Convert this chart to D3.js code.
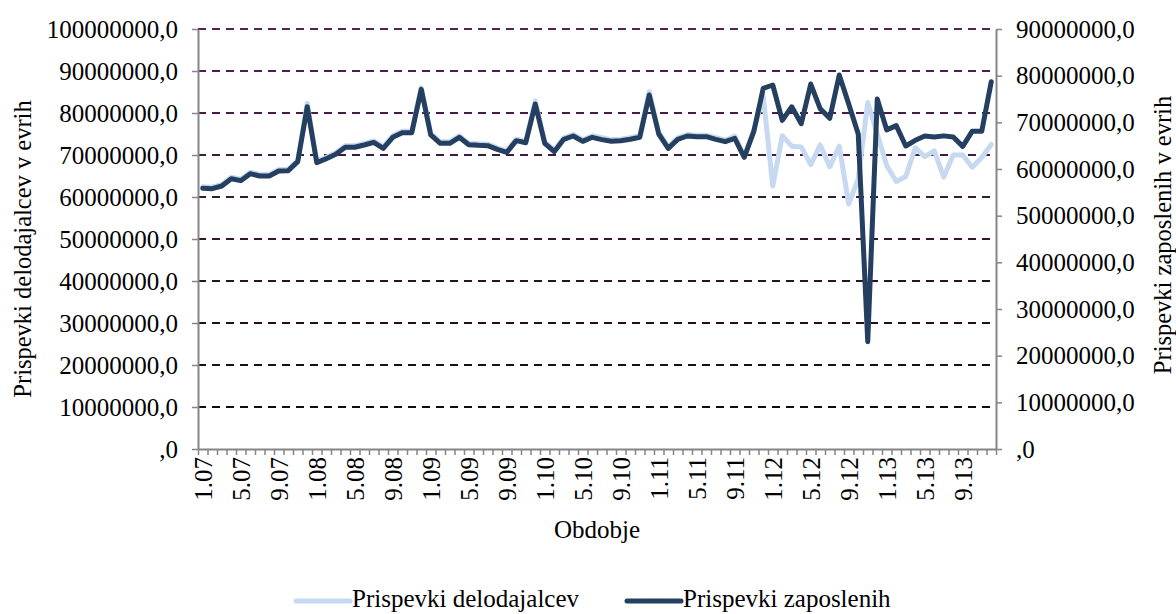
<!DOCTYPE html>
<html>
<head>
<meta charset="utf-8">
<script src="https://cdn.jsdelivr.net/npm/d3@7"></script>
<style>
  html, body { margin: 0; padding: 0; background: #fff; }
  svg { display: block; }
  text { font-family: "Liberation Serif", "Times New Roman", serif; fill: #000; }
</style>
</head>
<body>
<svg id="chart" width="1176" height="614"></svg>
<script>
// ---- data ----
const months = [];
for (let yr = 7; yr <= 13; yr++) for (let m = 1; m <= 12; m++) months.push(m + "." + (yr < 10 ? "0" + yr : yr));
const labelledMonths = ["1.07","5.07","9.07","1.08","5.08","9.08","1.09","5.09","9.09","1.10","5.10","9.10","1.11","5.11","9.11","1.12","5.12","9.12","1.13","5.13","9.13"];

const employers = [ // Prispevki delodajalcev (left axis), EUR
  62430000,62330000,62980000,64710000,64240000,65900000,65360000,65360000,66550000,66620000,68760000,82300000,
  68520000,69480000,70520000,72190000,72190000,72740000,73380000,71950000,74570000,75670000,75670000,86000000,
  75120000,73140000,73140000,74570000,72810000,72670000,72570000,71710000,71000000,73760000,73290000,82860000,
  73140000,71140000,74100000,74880000,73620000,74570000,74100000,73620000,73760000,74100000,74570000,85070000,
  75360000,71950000,74100000,74880000,74710000,74710000,74100000,73520000,74500000,69810000,75900000,84000000,
  62600000,74600000,72100000,71900000,67700000,72400000,67200000,72100000,58300000,64400000,82500000,75000000,
  67500000,63700000,64900000,71700000,69600000,71000000,64750000,70000000,70000000,67100000,69400000,72500000
];
const employees = [ // Prispevki zaposlenih (right axis), EUR
  55860000,55780000,56360000,57920000,57500000,59000000,58500000,58500000,59570000,59640000,61570000,73350000,
  61360000,62200000,63150000,64650000,64650000,65140000,65700000,64400000,66800000,67780000,67780000,77070000,
  67290000,65500000,65500000,66790000,65210000,65070000,65000000,64210000,63570000,66070000,65640000,73930000,
  65500000,63710000,66360000,67070000,65930000,66790000,66300000,65930000,66070000,66360000,66790000,75860000,
  67500000,64430000,66360000,67070000,66930000,66930000,66360000,65860000,66570000,62500000,68000000,77290000,
  78000000,70430000,73330000,69700000,78210000,72900000,70860000,80140000,73900000,67500000,22990000,75000000,
  68380000,69300000,64930000,66150000,67070000,66850000,67100000,66850000,64850000,68100000,68100000,78710000
];
const leftTicks = [0,10000000,20000000,30000000,40000000,50000000,60000000,70000000,80000000,90000000,100000000];
const rightTicks = [0,10000000,20000000,30000000,40000000,50000000,60000000,70000000,80000000,90000000];
const seriesNames = ["Prispevki delodajalcev", "Prispevki zaposlenih"];
const seriesColors = ["#c6d9f1", "#243f60"];

// ---- layout ----
const svg = d3.select("#chart");
const L = 198, R = 996, T = 29, B = 449;
const x = d3.scaleBand().domain(months).range([L, R]).padding(0);
const xIdx = d3.scaleLinear().domain([0, months.length]).range([L, R]);
const yL = d3.scaleLinear().domain([0, 100000000]).range([B, T]);
const yR = d3.scaleLinear().domain([0, 90000000]).range([B, T]);
const fmt = v => v === 0 ? ",0" : d3.format("d")(v) + ",0";
const axisColor = "#868686";
const gridColor = d3.scaleLinear().domain([10000000, 100000000]).range(["#140a14", "#552255"]);

// gridlines
svg.append("g").selectAll("line").data(leftTicks.filter(d => d > 0)).join("line")
  .attr("x1", L).attr("x2", R)
  .attr("y1", d => yL(d)).attr("y2", d => yL(d))
  .attr("stroke", d => gridColor(d)).attr("stroke-width", 1.8)
  .attr("stroke-dasharray", "8,6");

function styleAxis(g) {
  g.selectAll(".domain").attr("stroke", axisColor).attr("stroke-width", 2);
  g.selectAll(".tick line").attr("stroke", axisColor).attr("stroke-width", 1.5);
}

// left axis
const gl = svg.append("g").attr("transform", `translate(${L},0)`)
  .call(d3.axisLeft(yL).tickValues(leftTicks).tickFormat(fmt).tickSize(6).tickSizeOuter(0).tickPadding(14));
styleAxis(gl);
gl.selectAll("text").style("font-size", "25px").attr("fill", "#000");

// right axis
const gr = svg.append("g").attr("transform", `translate(${R},0)`)
  .call(d3.axisRight(yR).tickValues(rightTicks).tickFormat(fmt).tickSize(6).tickSizeOuter(0).tickPadding(14));
styleAxis(gr);
gr.selectAll("text").style("font-size", "25px").attr("fill", "#000");

// bottom tick marks at month boundaries
const gbt = svg.append("g").attr("transform", `translate(0,${B})`)
  .call(d3.axisBottom(xIdx).tickValues(d3.range(months.length + 1)).tickFormat("").tickSize(6).tickSizeOuter(0));
styleAxis(gbt);

// bottom labels
const gb = svg.append("g").attr("transform", `translate(0,${B})`)
  .call(d3.axisBottom(x).tickValues(labelledMonths).tickSize(0).tickSizeOuter(0));
gb.select(".domain").remove();
gb.selectAll("text")
  .attr("transform", "rotate(-90)")
  .attr("x", -8).attr("y", 0).attr("dy", "0.35em")
  .style("text-anchor", "end").style("font-size", "25px").attr("fill", "#000");

// lines
const cx = d => x(d) + x.bandwidth() / 2;
const lineL = d3.line().x((d, i) => cx(months[i])).y(d => yL(d));
const lineR = d3.line().x((d, i) => cx(months[i])).y(d => yR(d));
svg.append("path").datum(employers).attr("d", lineL)
  .attr("fill", "none").attr("stroke", seriesColors[0]).attr("stroke-width", 5)
  .attr("stroke-linejoin", "round").attr("stroke-linecap", "round");
svg.append("path").datum(employees).attr("d", lineR)
  .attr("fill", "none").attr("stroke", seriesColors[1]).attr("stroke-width", 5)
  .attr("stroke-linejoin", "round").attr("stroke-linecap", "round");

// axis titles
svg.append("text").attr("transform", "translate(22,249) rotate(-90)")
  .attr("text-anchor", "middle").attr("dominant-baseline", "central")
  .style("font-size", "24.5px").text("Prispevki delodajalcev v evrih");
svg.append("text").attr("transform", "translate(1162,235) rotate(-90)")
  .attr("text-anchor", "middle").attr("dominant-baseline", "central")
  .style("font-size", "24.5px").text("Prispevki zaposlenih v evrih");
svg.append("text").attr("x", 597).attr("y", 538)
  .attr("text-anchor", "middle").style("font-size", "25px").text("Obdobje");

// legend
const legX = [296, 627];
const leg = svg.append("g").selectAll("g").data(seriesNames).join("g")
  .attr("transform", (d, i) => `translate(${legX[i]},601)`);
leg.append("line").attr("x1", 0).attr("x2", 54).attr("y1", 0).attr("y2", 0)
  .attr("stroke", (d, i) => seriesColors[i]).attr("stroke-width", 5).attr("stroke-linecap", "round");
leg.append("text").attr("x", 56).attr("y", 6).style("font-size", "25px").text(d => d);
</script>
</body>
</html>
